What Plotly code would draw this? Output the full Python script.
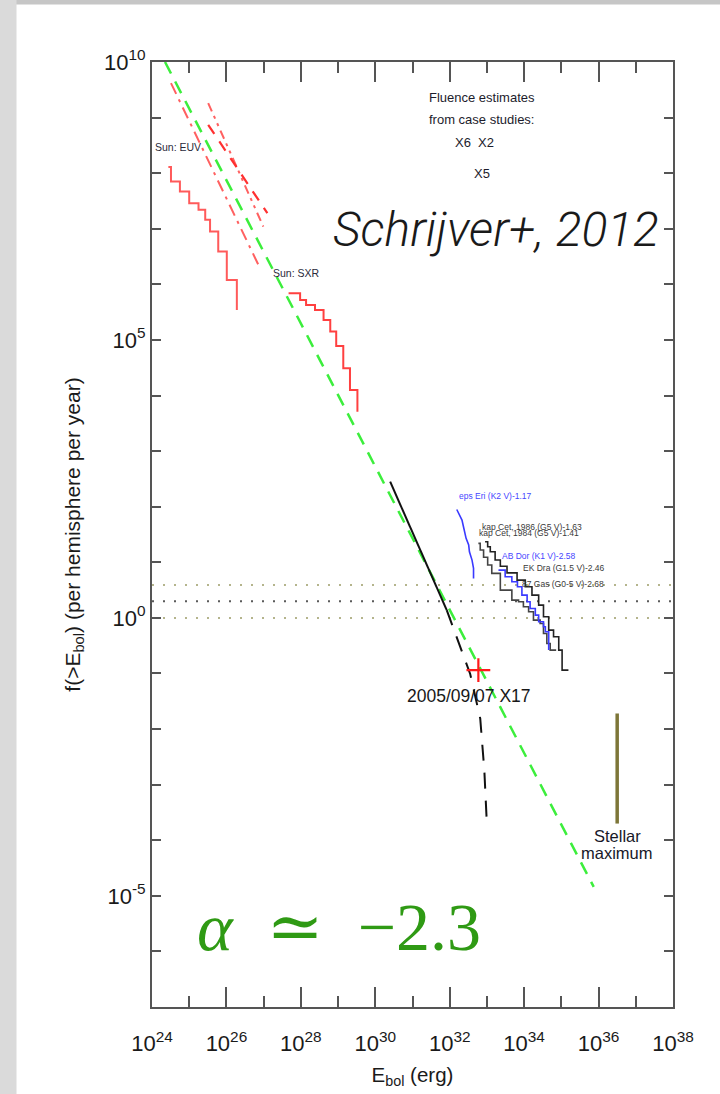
import numpy as np
import plotly.graph_objects as go

# ---------------------------------------------------------------
# Data (all values are log10 of energy [erg] and of frequency)
# ---------------------------------------------------------------
# Sun: EUV cumulative flare frequency (staircase)
euv_logE = [24.44, 24.51, 24.75, 25.00, 25.25, 25.43, 25.56, 25.78, 26.01, 26.28]
euv_logF = [8.11, 7.85, 7.67, 7.46, 7.34, 7.16, 6.95, 6.59, 6.08, 5.54]

# Sun: EUV power-law fits
euv_fitA_logE = [24.51, 26.86]
euv_fitA_logF = [9.62, 6.35]
euv_fitB_logE = [25.51, 27.10]
euv_fitB_logF = [8.87, 7.28]
euv_fitC_logE = [25.51, 26.99]
euv_fitC_logF = [9.26, 7.04]

# Sun: SXR cumulative flare frequency (staircase)
sxr_logE = [27.67, 27.98, 28.14, 28.38, 28.61, 28.79, 28.95, 29.14, 29.32, 29.52]
sxr_logF = [5.84, 5.72, 5.63, 5.54, 5.36, 5.15, 4.89, 4.49, 4.10, 3.71]

# Overall power law, alpha ~ -2.3
plaw_logE = [24.35, 35.87]
plaw_logF = [10.00, -4.84]

# Solar flare distribution extrapolated to large energies
ext_solid_logE = [30.40, 31.92]
ext_solid_logF = [2.45, 0.14]
ext_dash_logE = [31.92, 32.55, 32.82, 32.93, 33.00]
ext_dash_logF = [0.14, -1.01, -1.81, -2.74, -3.73]

# 2005/09/07 X17 flare
x17_logE = [32.77]
x17_logF = [-0.94]

# Stellar flare distributions
epsEri_logE = [32.19, 32.33, 32.37, 32.44, 32.51, 32.53, 32.60, 32.64, 32.64]
epsEri_logF = [1.95, 1.76, 1.64, 1.43, 1.31, 1.19, 1.04, 0.89, 0.71]

kapCet86_logE = [32.95, 33.02, 33.09, 33.22, 33.36, 33.54, 33.81, 34.03, 34.21,
                 34.39, 34.52, 34.66, 34.79, 34.93, 35.02, 35.19]
kapCet86_logF = [1.37, 1.28, 1.19, 1.04, 0.93, 0.81, 0.68, 0.56, 0.41,
                 0.23, 0.02, -0.22, -0.34, -0.58, -0.94, -0.94]

kapCet84_logE = [32.77, 32.82, 32.91, 33.02, 33.13, 33.36, 33.67, 33.85, 33.98,
                 34.12, 34.25, 34.43, 34.52, 34.61, 34.70, 34.86]
kapCet84_logF = [1.34, 1.22, 1.09, 0.95, 0.80, 0.50, 0.32, 0.29, 0.20,
                 0.11, -0.04, -0.10, -0.28, -0.46, -0.58, -0.58]

abDor_logE = [33.31, 33.49, 33.67, 33.82, 33.94, 34.08, 34.16, 34.30, 34.39,
              34.52, 34.57, 34.66]
abDor_logF = [0.86, 0.74, 0.65, 0.56, 0.41, 0.29, 0.17, 0.05, -0.07,
              -0.16, -0.25, -0.58]

# Reference rates (per hemisphere per year)
rate_levels = [3.9, 2.0, 1.0]

# Stellar maximum energy bar
stellar_max_logE = [36.50, 36.50]
stellar_max_logF = [-1.72, -3.70]

# Axis ticks
x_major_exp = [24, 26, 28, 30, 32, 34, 36, 38]
x_minor_exp = [25, 27, 29, 31, 33, 35, 37]
y_tick_exp = list(range(-7, 11))
y_label_exp = [10, 5, 0, -5]

# ---------------------------------------------------------------
# Layout geometry (pixels)
# ---------------------------------------------------------------
W, H = 720, 1094
ML, MR, MT, MB = 152, 47, 62, 87
X_RANGE = (24, 38)
Y_RANGE = (-7, 10)
PW, PH = W - ML - MR, H - MT - MB


def lx(px):
    """pixel x -> log10 data x"""
    return X_RANGE[0] + (px - ML) / PW * (X_RANGE[1] - X_RANGE[0])


def ly(py):
    """pixel y -> log10 data y"""
    return Y_RANGE[1] - (py - MT) / PH * (Y_RANGE[1] - Y_RANGE[0])


def paper_x(px):
    return (px - ML) / PW


def paper_y(py):
    return (H - MB - py) / PH


def pw(v):
    return 10.0 ** np.asarray(v, dtype=float)


fig = go.Figure()


def add_line(logE, logF, color, width=2, dash="solid", shape="linear"):
    fig.add_trace(go.Scatter(
        x=pw(logE), y=pw(logF), mode="lines",
        line=dict(color=color, width=width, dash=dash, shape=shape),
        showlegend=False, hoverinfo="skip"))


# horizontal reference rates
rate_colors = ["#b4b48c", "#5a5a5a", "#b4b48c"]
for lvl, col in zip(rate_levels, rate_colors):
    fig.add_trace(go.Scatter(
        x=pw(list(X_RANGE)), y=[lvl, lvl], mode="lines",
        line=dict(color=col, width=2, dash="2px,9px"),
        showlegend=False, hoverinfo="skip"))

# solar EUV / SXR
add_line(euv_logE, euv_logF, "#ff5a5a", 2, shape="hv")
add_line(euv_fitA_logE, euv_fitA_logF, "#ff6060", 2, dash="12px,6px,3px,6px")
add_line(euv_fitC_logE, euv_fitC_logF, "#ff6060", 2, dash="9px,5px,3px,5px,3px,5px")
add_line(euv_fitB_logE, euv_fitB_logF, "#ff3030", 2.2, dash="11px,9px")
add_line(sxr_logE, sxr_logF, "#ff4040", 2, shape="hv")

# power law
add_line(plaw_logE, plaw_logF, "#3cee3c", 2.5, dash="13px,9px")

# extrapolation
add_line(ext_solid_logE, ext_solid_logF, "#111111", 2)
add_line(ext_dash_logE, ext_dash_logF, "#111111", 2, dash="16px,12px")

# stars
add_line(epsEri_logE, epsEri_logF, "#3a3aff", 1.6)
add_line(kapCet86_logE, kapCet86_logF, "#222222", 1.6, shape="hv")
add_line(kapCet84_logE, kapCet84_logF, "#444444", 1.6, shape="hv")
add_line(abDor_logE, abDor_logF, "#3a3aff", 1.6, shape="hv")

# stellar maximum bar
add_line(stellar_max_logE, stellar_max_logF, "#7d7638", 3.5)

# X17 flare marker
fig.add_trace(go.Scatter(
    x=pw(x17_logE), y=pw(x17_logF), mode="markers",
    marker=dict(symbol="cross-thin", size=17, line=dict(color="#ff1a1a", width=2.2)),
    showlegend=False, hoverinfo="skip"))

SANS = "Liberation Sans, Arial, sans-serif"
ann = []


def text(px, py, s, size, color="#1c1c2c", xanchor="center", family=SANS, **kw):
    ann.append(dict(x=lx(px), y=ly(py), xref="x", yref="y", text=s,
                    showarrow=False, xanchor=xanchor, yanchor="middle",
                    font=dict(size=size, color=color, family=family, **kw)))


text(152.5, 147, "Sun: EUV", 10.5, "#2a2a3a", xanchor="left")
text(271, 273, "Sun: SXR", 10.5, "#2a2a3a", xanchor="left")
text(482, 97, "Fluence estimates", 13)
text(482, 119, "from case studies:", 13)
text(474, 142, "X6  X2", 13)
text(482, 173, "X5", 13)
text(457, 496, "eps Eri (K2 V)-1.17", 8.5, "#4646ff", xanchor="left")
text(480, 527, "kap Cet, 1986 (G5 V)-1.63", 8.5, "#3a3a3a", xanchor="left")
text(477, 533, "kap Cet, 1984 (G5 V)-1.41", 8.5, "#3a3a3a", xanchor="left")
text(500, 556, "AB Dor (K1 V)-2.58", 8.5, "#4646ff", xanchor="left")
text(521, 568, "EK Dra (G1.5 V)-2.46", 8.5, "#3a3a3a", xanchor="left")
text(520, 584, "87 Gas (G0-5 V)-2.68", 8.5, "#3a3a3a", xanchor="left")
text(469, 696, "2005/09/07 X17", 17.5, "#181818")
text(617, 836, "Stellar", 16.5, "#181828")
text(617, 853, "maximum", 16.5, "#181828")
text(496, 229, "<i>Schrijver+, 2012</i>", 48, "#1a1a1a",
     family="Roboto, Liberation Sans, sans-serif", weight=300)
text(339, 927, "<i>α</i>\u2002≃\u2002−2.3", 68, "#2f9a14",
     family="Liberation Serif, DejaVu Serif, serif")

fig.update_layout(annotations=ann)

# light grey frame along the top and left edges
shapes = [
    dict(type="rect", xref="paper", yref="paper",
         x0=paper_x(0), x1=paper_x(W), y0=paper_y(4.5), y1=paper_y(0),
         fillcolor="#c6c6c6", line=dict(width=0), layer="above"),
    dict(type="rect", xref="paper", yref="paper",
         x0=paper_x(0), x1=paper_x(16.5), y0=paper_y(H), y1=paper_y(0),
         fillcolor="#dadada", line=dict(width=0), layer="above"),
]
fig.update_layout(shapes=shapes)

axis_common = dict(
    type="log", showgrid=False, zeroline=False,
    showline=True, linecolor="#555555", linewidth=2, mirror="ticks",
    ticks="inside", tickcolor="#555555", tickwidth=1.5,
    tickfont=dict(family=SANS, size=22, color="#1a1a1a"),
)

fig.update_xaxes(
    **axis_common,
    range=list(X_RANGE),
    tickmode="array",
    tickvals=pw(x_major_exp),
    ticktext=[f"10<sup>{e}</sup>" for e in x_major_exp],
    ticklen=20,
    ticklabelstandoff=16,
    minor=dict(tickmode="array", tickvals=pw(x_minor_exp),
               ticks="inside", ticklen=11, tickcolor="#555555", tickwidth=1.5),
    title=dict(text="E<sub>bol</sub> (erg)", standoff=12,
               font=dict(family=SANS, size=20.5, color="#1a1a1a")),
)

fig.update_yaxes(
    **axis_common,
    range=list(Y_RANGE),
    tickmode="array",
    tickvals=pw(y_tick_exp),
    ticktext=[f"10<sup>{e}</sup>" if e in y_label_exp else "" for e in y_tick_exp],
    ticklen=9,
    title=dict(text="f(>E<sub>bol</sub>) (per hemisphere per year)", standoff=18,
               font=dict(family=SANS, size=21, color="#1a1a1a")),
)

fig.update_layout(
    width=W, height=H,
    margin=dict(l=ML, r=MR, t=MT, b=MB, autoexpand=False),
    paper_bgcolor="white", plot_bgcolor="white",
    showlegend=False,
)

fig.write_html("out.html")
